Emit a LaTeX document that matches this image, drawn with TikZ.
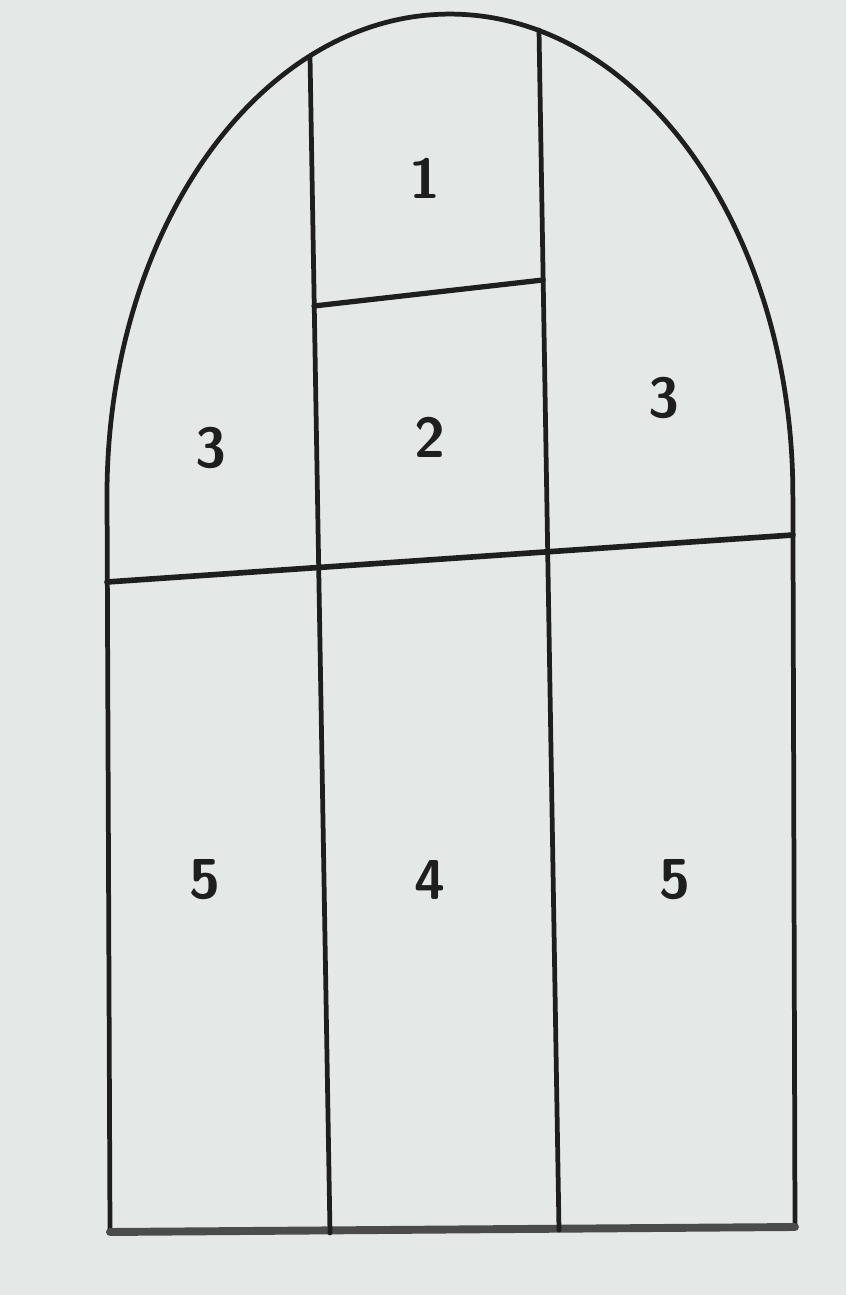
\documentclass[tikz,border=0pt]{standalone}
\usepackage{tikz}
\definecolor{paper}{HTML}{E4E9E7}
\definecolor{ink}{HTML}{1E1E1E}
\tikzset{
  wall/.style={draw=ink, line width=2.7pt, line cap=round},
  floor/.style={draw=ink!80, line width=4.5pt, line cap=round},
  lbl/.style={font=\fontsize{32}{32}\selectfont\sffamily\bfseries, text=ink}
}
\begin{document}
\begin{tikzpicture}[x=0.02cm,y=0.02cm]
\fill[paper] (0,0) rectangle (846,1295);
\useasboundingbox (0,0) rectangle (846,1295);
% key points (x px, 1295 - y px)
\coordinate (LW) at (107,800);
\coordinate (RW) at (793,800);
\coordinate (BL) at (110,63);
\coordinate (BR) at (795,68);
\coordinate (V1t) at (310,1239);
\coordinate (V1b) at (330,62);
\coordinate (V2t) at (539,1265);
\coordinate (V2b) at (559,65);
\coordinate (H1l) at (314,989);
\coordinate (H1r) at (543,1015);
\coordinate (H2l) at (107,713);
\coordinate (H2r) at (793,760);
% arch and walls
\draw[wall] (BL) -- (LW) arc[start angle=180, end angle=0, x radius=6.86cm, y radius=9.62cm] -- (BR);
\draw[floor] (BL) -- (BR);
% interior division lines
\draw[wall] (V1t) -- (V1b);
\draw[wall] (V2t) -- (V2b);
\draw[wall, line width=3pt] (H1l) -- (H1r);
\draw[wall, line width=3.2pt] (H2l) -- (H2r);
% labels
\node[lbl] (n1) at (425,1117) {1};
\node[lbl] (n2) at (430,858) {2};
\node[lbl] (n3l) at (211,847) {3};
\node[lbl] (n3r) at (664,897) {3};
\node[lbl] (n5l) at (205,415) {5};
\node[lbl] (n4) at (430,415) {4};
\node[lbl] (n5r) at (675,415) {5};
\end{tikzpicture}
\end{document}
